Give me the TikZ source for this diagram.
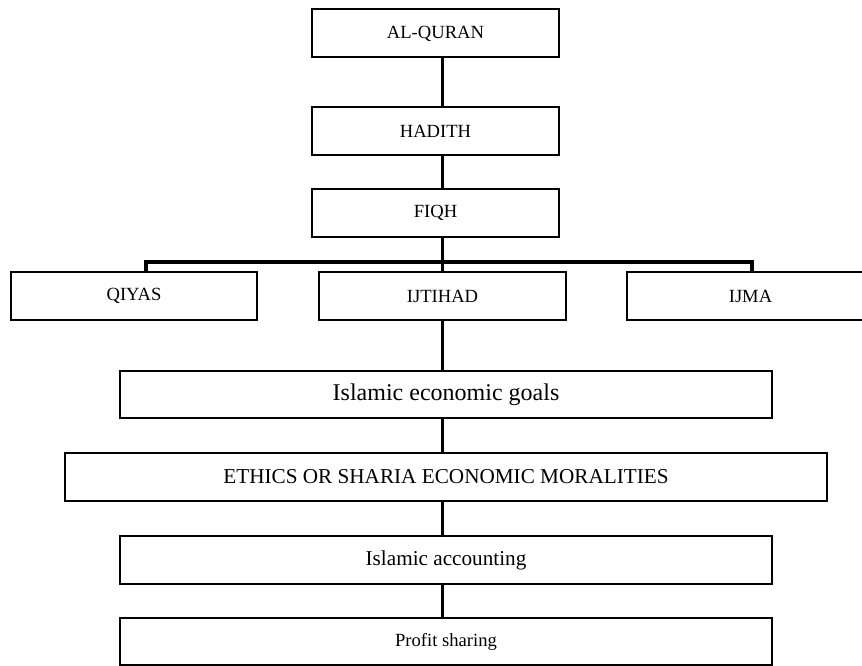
\documentclass[tikz,border=0pt]{standalone}
\usepackage{fontspec}
\setmainfont{Liberation Serif}
\begin{document}
\begin{tikzpicture}[x=1pt,y=-1pt,
  box/.style={draw,line width=2pt,inner sep=0pt,outer sep=0pt,fill=white,
    minimum width=#1,minimum height=48pt,font=\fontsize{18.6}{20}\selectfont},
  box/.default=247pt,
  link/.style={line width=3.5pt,line cap=butt}]
\useasboundingbox (0,0) rectangle (862,666);
\clip (0,0) rectangle (862,666);
\coordinate (spine) at (442.5,0);
% nodes
\node[box] (quran) at (435.5,33.5) {AL-QURAN};
\node[box] (hadith) at (435.5,131) {HADITH};
\node[box] (fiqh) at (435.5,213) {FIQH};
\node[box=246pt] (qiyas) at (134,296) {QIYAS};
\node[box] (ijtihad) at (442.5,296) {IJTIHAD};
\node[box] (ijma) at (750.5,296) {IJMA};
\node[box=652pt,minimum height=47pt,font=\fontsize{24}{26}\selectfont] (goals) at (446,394.5) {Islamic economic goals};
\node[box=762pt,font=\fontsize{21.2}{23}\selectfont] (ethics) at (446,477) {ETHICS OR SHARIA ECONOMIC MORALITIES};
\node[box=652pt,font=\fontsize{21.2}{23}\selectfont] (accounting) at (446,560) {Islamic accounting};
\node[box=652pt,minimum height=47pt] (profit) at (446,641.5) {Profit sharing};
\coordinate (bar) at (0,262);
\coordinate (qx) at (146,0);
\coordinate (mx) at (752,0);
% connectors
\draw[link] (quran.south -| spine) -- (hadith.north -| spine);
\draw[link] (hadith.south -| spine) -- (fiqh.north -| spine);
\draw[link] (fiqh.south -| spine) -- (ijtihad.north -| spine);
\draw[link,line join=miter] (qiyas.north -| qx) -- (bar -| qx) -- (bar -| mx) -- (ijma.north -| mx);
\draw[link] (ijtihad.south -| spine) -- (goals.north -| spine);
\draw[link] (goals.south -| spine) -- (ethics.north -| spine);
\draw[link] (ethics.south -| spine) -- (accounting.north -| spine);
\draw[link] (accounting.south -| spine) -- (profit.north -| spine);
\end{tikzpicture}
\end{document}
